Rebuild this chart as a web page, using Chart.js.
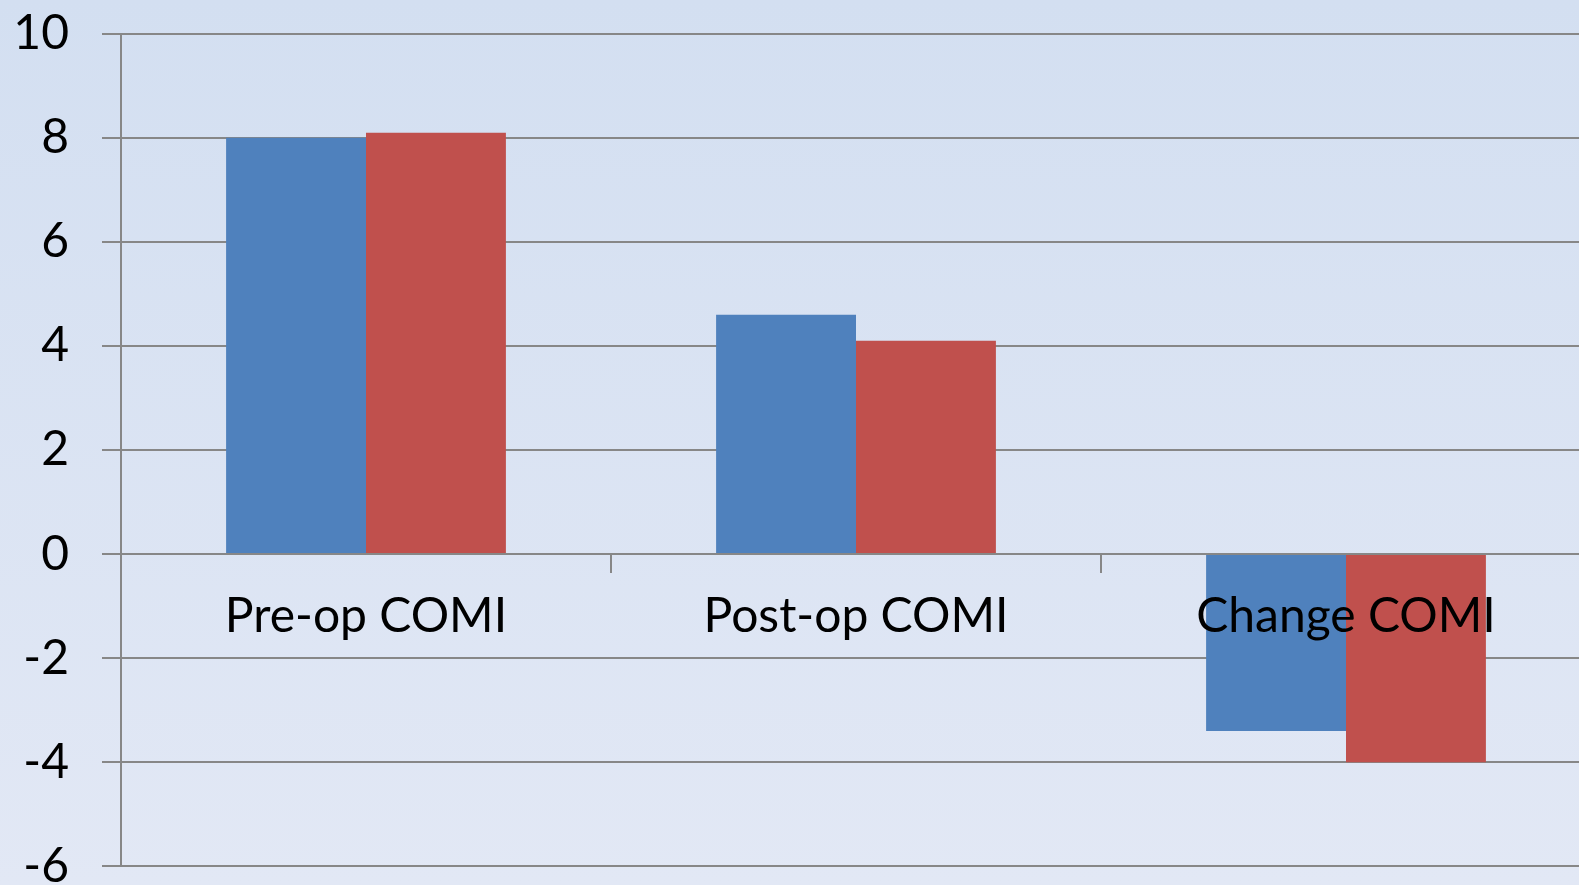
<!DOCTYPE html>
<html>
<head>
<meta charset="utf-8">
<script src="https://cdn.jsdelivr.net/npm/chart.js@4/dist/chart.umd.min.js"></script>
<style>
  html, body { margin: 0; padding: 0; width: 1579px; height: 885px; overflow: hidden; }
  body { background: linear-gradient(to bottom, #d3dff1, #e2e8f5); }
  #chart { position: absolute; left: 0; top: -28px; }
</style>
</head>
<body>
<canvas id="chart" width="1600" height="956"></canvas>
<script>
const categories = ['Pre-op COMI', 'Post-op COMI', 'Change COMI'];
const blueValues = [8.0, 4.6, -3.4];
const redValues = [8.1, 4.1, -4.0];
const yMin = -6;
const yMax = 10;
const yStep = 2;

const gridColor = '#878787';
const labelFont = { family: 'Lato', size: 48 };

new Chart(document.getElementById('chart'), {
  type: 'bar',
  data: {
    labels: categories,
    datasets: [
      { data: blueValues, backgroundColor: '#4f81bd', categoryPercentage: 0.571, barPercentage: 1 },
      { data: redValues, backgroundColor: '#c0504d', categoryPercentage: 0.571, barPercentage: 1 },
    ],
  },
  options: {
    responsive: false,
    animation: false,
    layout: { padding: { top: 4, right: 9, bottom: 45, left: 0 } },
    plugins: { legend: { display: false }, tooltip: { enabled: false } },
    scales: {
      x: {
        position: { y: 0 },
        afterFit: (s) => { s.height = 0; },
        grid: { drawOnChartArea: false, drawTicks: true, tickLength: 18, color: gridColor, lineWidth: 2, offset: true },
        border: { display: true, color: gridColor, width: 2, z: 1 },
        ticks: { color: '#000', font: labelFont, padding: 16, maxRotation: 0, z: 1 },
      },
      y: {
        min: yMin,
        max: yMax,
        afterFit: (s) => { s.width = 121; },
        grid: { color: gridColor, lineWidth: 2, tickLength: 19 },
        border: { display: true, color: gridColor, width: 2 },
        ticks: { stepSize: yStep, color: '#000', font: labelFont, padding: 33 },
      },
    },
  },
});
</script>
</body>
</html>
